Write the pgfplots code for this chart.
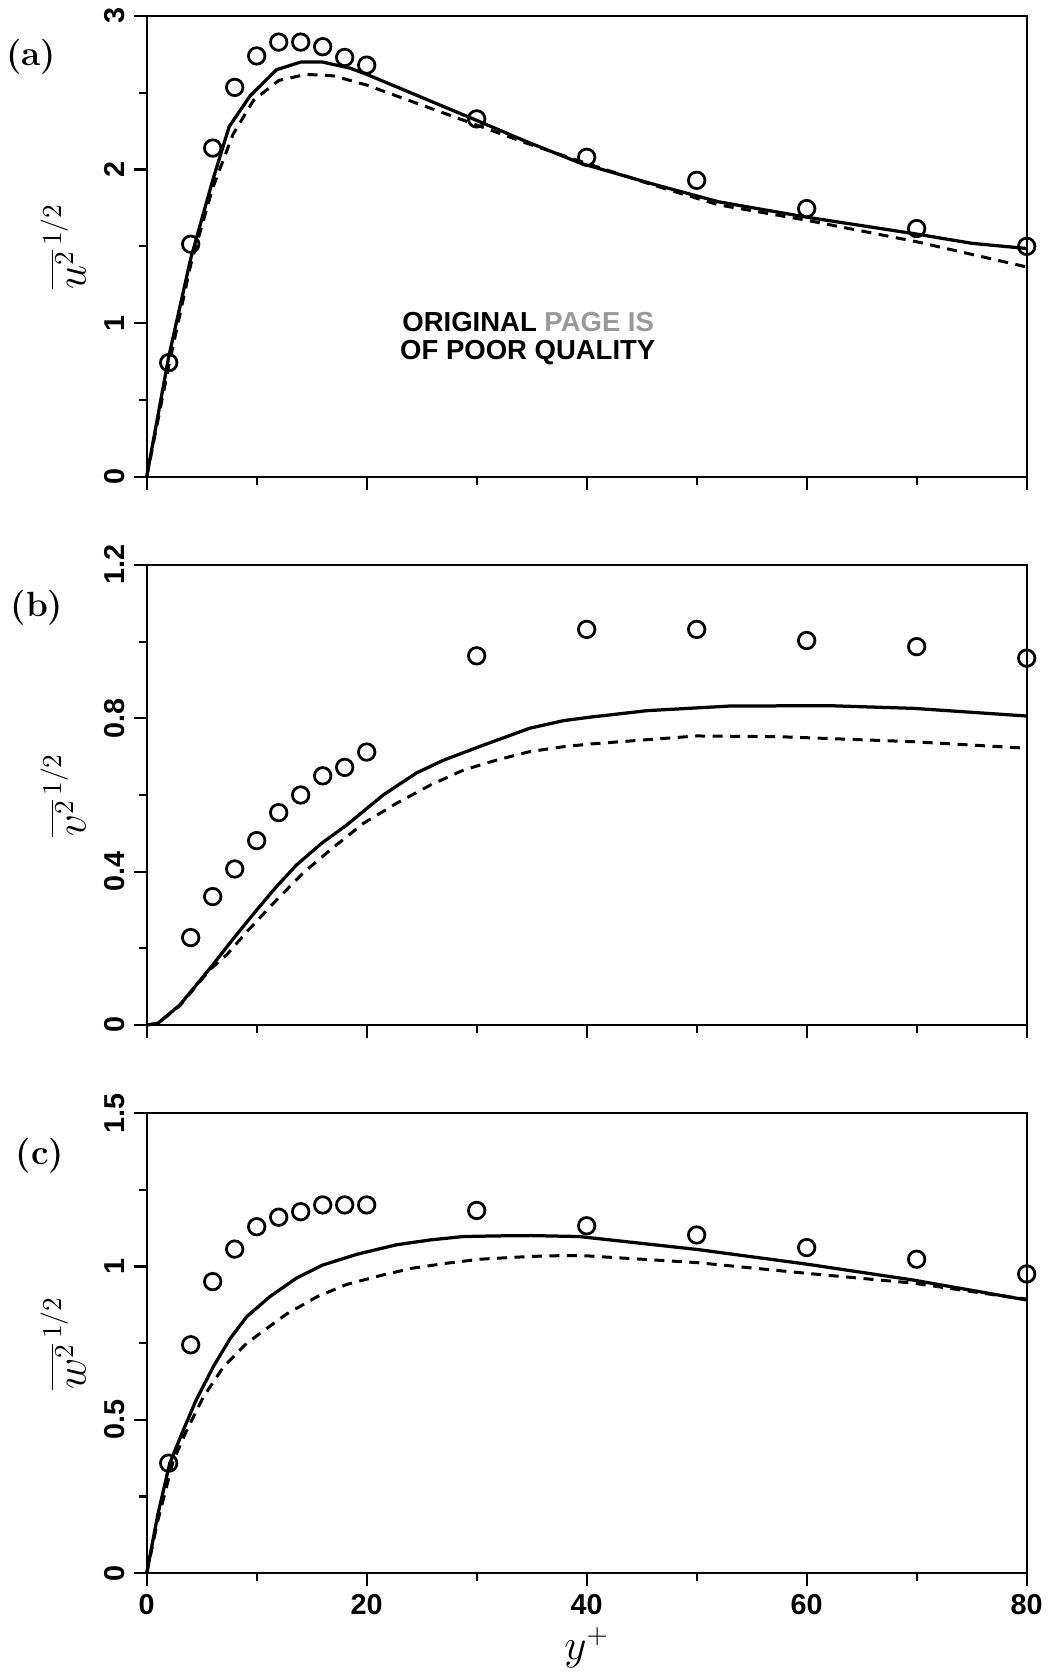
\documentclass[border=0pt]{standalone}
\usepackage{fontspec}
\usepackage{pgfplots}
\pgfplotsset{compat=1.18}
\newfontfamily\sansb{Liberation Sans}

\pgfplotsset{
  panel/.style={
    scale only axis, width=352pt, height=184pt,
    xmin=0, xmax=80, xtick={0,20,40,60,80}, minor x tick num=1,
    minor y tick num=1,
    tick align=outside, xtick pos=bottom, ytick pos=left,
    major tick length=5.2pt, minor tick length=3.2pt,
    axis line style={line width=0.9pt},
    every tick/.append style={line width=0.9pt, black},
    tick label style={font=\fontsize{11.5}{13}\sansb\bfseries},
    /pgf/number format/assume math mode=true,
    yticklabel style={rotate=90, anchor=south, inner sep=0pt},
    xticklabel style={anchor=north, inner sep=0pt},
    yticklabel shift=3.5pt, xticklabel shift=3pt,
    ylabel style={at={(axis description cs:-0.095,0.5)}, anchor=center,
      font=\fontsize{16}{18}\selectfont},
    clip=false,
  },
  sol/.style={black, line width=1.3pt, no marks},
  dsh/.style={black, line width=1.2pt, dash pattern=on 4pt off 3pt, no marks},
  exp/.style={only marks, mark=o, mark size=3.3pt, mark options={line width=1.1pt, black}},
}

\begin{document}
\begin{tikzpicture}
\path[use as bounding box] (0,0) rectangle (420pt,669.2pt);

% (a)
\begin{axis}[panel, anchor=south west, at={(58.68pt,478.5pt)}, height=184.3pt,
    ymin=0, ymax=3, ytick={0,1,2,3}, xticklabels={},
    ylabel={$\overline{u^2}^{\,1/2}$}]
  \addplot[sol] coordinates {(0,0) (2,0.78) (4,1.42) (6,1.93) (7.5,2.28) (9.4,2.48)
    (11.8,2.65) (14,2.70) (16,2.70) (18.5,2.66) (20,2.62) (25,2.47) (30,2.32)
    (34.6,2.18) (39.5,2.04) (45.8,1.91) (52,1.79) (60,1.69) (70,1.58) (75,1.52) (80,1.486)};
  \addplot[dsh] coordinates {(0,0) (2,0.72) (4,1.38) (6,1.88) (7.85,2.23) (9.7,2.45)
    (12,2.58) (14.5,2.62) (17,2.61) (20,2.55) (25,2.42) (30,2.29) (34.6,2.17)
    (40,2.04) (46,1.90) (52,1.77) (60,1.67) (70,1.53) (80,1.366)};
  \addplot[exp] coordinates {(2,0.743) (4,1.514) (6,2.14) (8,2.535) (10,2.74) (12,2.83)
    (14,2.83) (16,2.80) (18,2.73) (20,2.68) (30,2.33) (40,2.08) (50,1.93) (60,1.746)
    (70,1.616) (80,1.50)};
  \node[anchor=west, inner sep=0pt, font=\fontsize{11}{13}\sansb\bfseries]
    at (axis cs:23.2,1.007) {ORIGINAL {\color{black!40}PAGE IS}};
  \node[anchor=west, inner sep=0pt, font=\fontsize{11}{13}\sansb\bfseries]
    at (axis cs:23,0.81) {OF POOR QUALITY};
\end{axis}

% (b)
\begin{axis}[panel, anchor=south west, at={(58.68pt,259.2pt)},
    ymin=0, ymax=1.2, ytick={0,0.4,0.8,1.2}, xticklabels={},
    ylabel={$\overline{v^2}^{\,1/2}$}]
  \addplot[sol] coordinates {(0,0) (1,0.004) (3,0.052) (5.76,0.148) (7.9,0.226) (10,0.30)
    (11.8,0.361) (13.6,0.417) (15.9,0.474) (18.2,0.522) (21.5,0.60) (24.5,0.657)
    (27,0.691) (30.6,0.730) (34.8,0.774) (37.9,0.794) (40.3,0.803) (45.5,0.820)
    (53,0.832) (62,0.833) (69.7,0.826) (80,0.806)};
  \addplot[dsh] coordinates {(0,0) (1,0.004) (3,0.05) (5.76,0.145) (7.27,0.183)
    (9.1,0.243) (11.5,0.317) (14.2,0.396) (16.7,0.457) (19.7,0.526) (22.7,0.578)
    (25.8,0.626) (28.8,0.665) (31.8,0.691) (34.8,0.713) (37.9,0.726) (40.3,0.733)
    (50,0.754) (57.6,0.752) (69.7,0.739) (80,0.722)};
  \addplot[exp] coordinates {(4,0.228) (6,0.335) (8,0.407) (10,0.481) (12,0.554)
    (14,0.600) (16,0.650) (18,0.672) (20,0.712) (30,0.963) (40,1.032) (50,1.032)
    (60,1.003) (70,0.987) (80,0.957)};
\end{axis}

% (c)
\begin{axis}[panel, anchor=south west, at={(58.68pt,39.9pt)},
    ymin=0, ymax=1.5, ytick={0,0.5,1,1.5},
    ylabel={$\overline{w^2}^{\,1/2}$},
    xlabel={$y^+$},
    xlabel style={at={(axis description cs:0.5,0)}, anchor=center, yshift=-29.9pt,
      font=\fontsize{16}{18}\selectfont}]
  \addplot[sol] coordinates {(0,0) (1,0.19) (2.1,0.359) (3.33,0.467) (4.5,0.565)
    (6.06,0.674) (7.6,0.766) (9.1,0.837) (11.2,0.902) (13.6,0.962) (16,1.005)
    (19.1,1.040) (22.7,1.071) (25.8,1.087) (28.8,1.098) (31.8,1.100) (35,1.101)
    (39.3,1.098) (50,1.056) (60,1.008) (69.7,0.956) (80,0.891)};
  \addplot[dsh] coordinates {(0,0) (1,0.17) (2.4,0.365) (3.6,0.463) (5.15,0.575)
    (7,0.674) (9.1,0.75) (10.6,0.79) (12.7,0.845) (15.5,0.902) (18.2,0.942)
    (21.5,0.973) (24.2,0.995) (27.3,1.011) (30.3,1.024) (34.8,1.033) (38,1.036)
    (40,1.035) (50,1.013) (60,0.978) (69.7,0.946) (78.2,0.902) (80,0.894)};
  \addplot[exp] coordinates {(2,0.359) (4,0.745) (6,0.951) (8,1.057) (10,1.130)
    (12,1.161) (14,1.179) (16,1.201) (18,1.201) (20,1.201) (30,1.183) (40,1.133)
    (50,1.103) (60,1.062) (70,1.024) (80,0.976)};
\end{axis}

\node[font=\fontsize{14}{16}\bfseries] at (12.4pt,646.4pt) {(a)};
\node[font=\fontsize{14}{16}\bfseries] at (14.8pt,426pt) {(b)};
\node[font=\fontsize{14}{16}\bfseries] at (16pt,206.8pt) {(c)};
\end{tikzpicture}
\end{document}
